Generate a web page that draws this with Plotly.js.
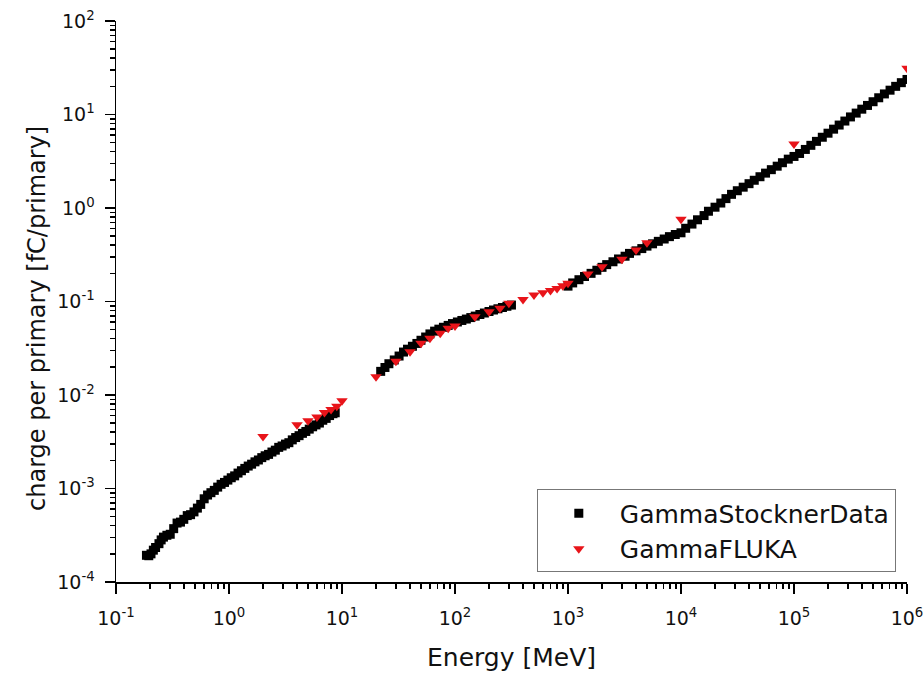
<!DOCTYPE html>
<html>
<head>
<meta charset="utf-8">
<script src="https://cdn.plot.ly/plotly-3.0.1.min.js"></script>
<style>html,body{margin:0;padding:0;background:#fff;overflow:hidden;}#chart{width:923px;height:675px;}</style>
</head>
<body>
<div id="chart"></div>
<script>
// GammaStocknerData (black squares)
var stocknerEnergy = [
  0.186, 0.195, 0.204, 0.214, 0.224, 0.240, 0.251, 0.263, 0.282, 0.302, 0.324, 0.347, 0.372, 0.398, 0.427, 0.457, 0.490, 0.525, 0.562, 0.603,
  0.646, 0.692, 0.741, 0.794, 0.851, 0.912, 0.977, 1.047, 1.122, 1.202, 1.288, 1.380, 1.479, 1.585, 1.698, 1.820, 1.950, 2.089, 2.239, 2.399,
  2.570, 2.754, 2.951, 3.162, 3.388, 3.631, 3.890, 4.169, 4.467, 4.786, 5.129, 5.495, 5.888, 6.310, 6.761, 7.244, 7.762, 8.318, 8.71,
  22, 24, 26, 29, 32, 35, 38, 42, 46, 50, 55, 60, 66, 72, 79, 87, 95, 105, 115, 126, 138, 151, 166, 182, 200, 219, 240, 263, 288, 316,
  1000, 1100, 1250, 1400, 1600, 1800, 2000, 2200, 2500, 2800, 3200, 3500, 4000, 4500, 5000, 5600, 6300, 7100, 7900, 8900,
  10000, 11000, 12500, 14000, 16000, 17500, 20000, 22500, 25000, 28000, 31500, 35500, 40000, 44500, 50000, 56000, 63000, 71000, 79000, 89000,
  100000, 112000, 126000, 141000, 158000, 178000, 200000, 224000, 251000, 282000, 316000, 355000, 398000, 447000, 501000, 562000, 631000, 708000, 794000, 891000,
  1000000, 1120000
];
var stocknerCharge = [
  1.93e-4, 1.91e-4, 2.0e-4, 2.19e-4, 2.34e-4, 2.57e-4, 2.82e-4, 3.02e-4, 3.16e-4, 3.24e-4, 3.72e-4, 4.27e-4, 4.37e-4, 4.68e-4, 5.13e-4, 5.25e-4, 5.62e-4, 6.17e-4, 6.76e-4, 7.76e-4,
  8.51e-4, 9.02e-4, 9.55e-4, 1.035e-3, 1.109e-3, 1.161e-3, 1.23e-3, 1.303e-3, 1.365e-3, 1.462e-3, 1.549e-3, 1.641e-3, 1.738e-3, 1.82e-3, 1.928e-3, 2.018e-3, 2.138e-3, 2.239e-3, 2.317e-3, 2.455e-3,
  2.57e-3, 2.754e-3, 2.851e-3, 2.985e-3, 3.09e-3, 3.311e-3, 3.508e-3, 3.673e-3, 3.89e-3, 4.074e-3, 4.315e-3, 4.571e-3, 4.786e-3, 5.012e-3, 5.37e-3, 5.623e-3, 6.026e-3, 6.31e-3, 6.457e-3,
  0.0179, 0.0197, 0.0216, 0.0237, 0.0261, 0.0288, 0.0309, 0.0332, 0.0356, 0.0385, 0.0417, 0.0450, 0.0482, 0.0506, 0.0530, 0.0555, 0.0581, 0.0604, 0.0627, 0.0649,
  0.0673, 0.0698, 0.0726, 0.0753, 0.0782, 0.0811, 0.0836, 0.0863, 0.0889, 0.0916,
  0.146, 0.158, 0.171, 0.185, 0.200, 0.216, 0.232, 0.248, 0.266, 0.285, 0.305, 0.327, 0.348, 0.368, 0.391, 0.414, 0.440, 0.466, 0.494, 0.521,
  0.543, 0.607, 0.673, 0.748, 0.830, 0.923, 1.02, 1.13, 1.26, 1.40, 1.53, 1.67, 1.82, 1.98, 2.16, 2.36, 2.57, 2.80, 3.05, 3.33,
  3.56, 3.83, 4.23, 4.68, 5.16, 5.71, 6.31, 6.97, 7.71, 8.51, 9.42, 10.35, 11.4, 12.5, 13.7, 15.1, 16.6, 18.2, 20.0, 21.9,
  23.7, 25.6
];

// GammaFLUKA (red triangles)
var flukaEnergy = [2, 4, 5, 6, 7, 8, 9, 10, 20, 30, 40, 50, 60, 74, 87, 100, 150, 200, 250, 300, 400, 500, 600, 700, 800, 900, 1000, 1500, 2000, 3000, 4000, 5000, 10000, 100000, 1000000];
var flukaCharge = [3.6e-3, 4.8e-3, 5.3e-3, 5.8e-3, 6.5e-3, 7.0e-3, 7.6e-3, 8.7e-3, 0.0157, 0.023, 0.029, 0.0357, 0.0404, 0.0457, 0.0517, 0.0547, 0.0687, 0.0778, 0.0845, 0.0957, 0.105, 0.117, 0.124, 0.131, 0.138, 0.147, 0.157, 0.197, 0.236, 0.283, 0.356, 0.426, 0.757, 4.83, 31.2];

var xTickVals = [0.1, 1, 10, 100, 1000, 10000, 100000, 1000000];
var xTickText = ['10<sup>-1</sup>', '10<sup>0</sup>', '10<sup>1</sup>', '10<sup>2</sup>', '10<sup>3</sup>', '10<sup>4</sup>', '10<sup>5</sup>', '10<sup>6</sup>'];
var yTickVals = [1e-4, 1e-3, 1e-2, 1e-1, 1, 10, 100];
var yTickText = ['10<sup>-4</sup>', '10<sup>-3</sup>', '10<sup>-2</sup>', '10<sup>-1</sup>', '10<sup>0</sup>', '10<sup>1</sup>', '10<sup>2</sup>'];
var xTitle = 'Energy [MeV]';
var yTitle = 'charge per primary [fC/primary]';

function minorVals(lo, hi) {
  var out = [];
  for (var e = lo; e < hi; e++) {
    for (var d = 2; d <= 9; d++) out.push(d * Math.pow(10, e));
  }
  return out;
}

var FONT = 'DejaVu Sans, sans-serif';

var traces = [
  {
    x: stocknerEnergy, y: stocknerCharge, mode: 'markers', type: 'scatter',
    name: 'GammaStocknerData',
    marker: {symbol: 'square', size: 9, color: '#000000'}
  },
  {
    x: flukaEnergy, y: flukaCharge, mode: 'markers', type: 'scatter',
    name: 'GammaFLUKA',
    marker: {symbol: 'triangle-down', size: 10, color: '#e8141a'}
  }
];

var axisCommon = {
  type: 'log', showgrid: false, zeroline: false,
  showline: true, linecolor: '#000', linewidth: 1.5, mirror: false,
  ticks: 'outside', ticklen: 10, tickwidth: 1.5, tickcolor: '#000',
  tickmode: 'array', ticklabeloverflow: 'allow',
  tickfont: {family: FONT, size: 19, color: '#111'}
};

var layout = {
  width: 923, height: 675,
  margin: {l: 116, r: 16, t: 21, b: 93, pad: 0},
  paper_bgcolor: '#fff', plot_bgcolor: '#fff',
  showlegend: true,
  xaxis: Object.assign({}, axisCommon, {
    range: [-1, 6],
    tickvals: xTickVals, ticktext: xTickText,
    ticklabelstandoff: 9,
    minor: {tickmode: 'array', tickvals: minorVals(-1, 6), ticks: 'outside', ticklen: 5, tickwidth: 1.5, tickcolor: '#000', showgrid: false},
    title: {text: xTitle, font: {family: FONT, size: 25, color: '#111'}, standoff: 20},
    automargin: false
  }),
  yaxis: Object.assign({}, axisCommon, {
    range: [-4, 2],
    tickvals: yTickVals, ticktext: yTickText,
    ticklabelstandoff: 6,
    minor: {tickmode: 'array', tickvals: minorVals(-4, 2), ticks: 'outside', ticklen: 5, tickwidth: 1.5, tickcolor: '#000', showgrid: false},
    automargin: false
  }),
  annotations: [{
    text: yTitle, xref: 'paper', yref: 'paper',
    x: -0.0999, y: 0.4706, xanchor: 'center', yanchor: 'middle',
    textangle: -90, showarrow: false,
    font: {family: FONT, size: 24, color: '#111'}
  }],
  legend: {
    x: 0.532, y: 0.165, xanchor: 'left', yanchor: 'top',
    bgcolor: '#fff', bordercolor: '#777', borderwidth: 1,
    font: {family: FONT, size: 25, color: '#111'},
    itemwidth: 72, tracegroupgap: 0
  }
};

Plotly.newPlot('chart', traces, layout, {staticPlot: true, displayModeBar: false});
</script>
</body>
</html>
